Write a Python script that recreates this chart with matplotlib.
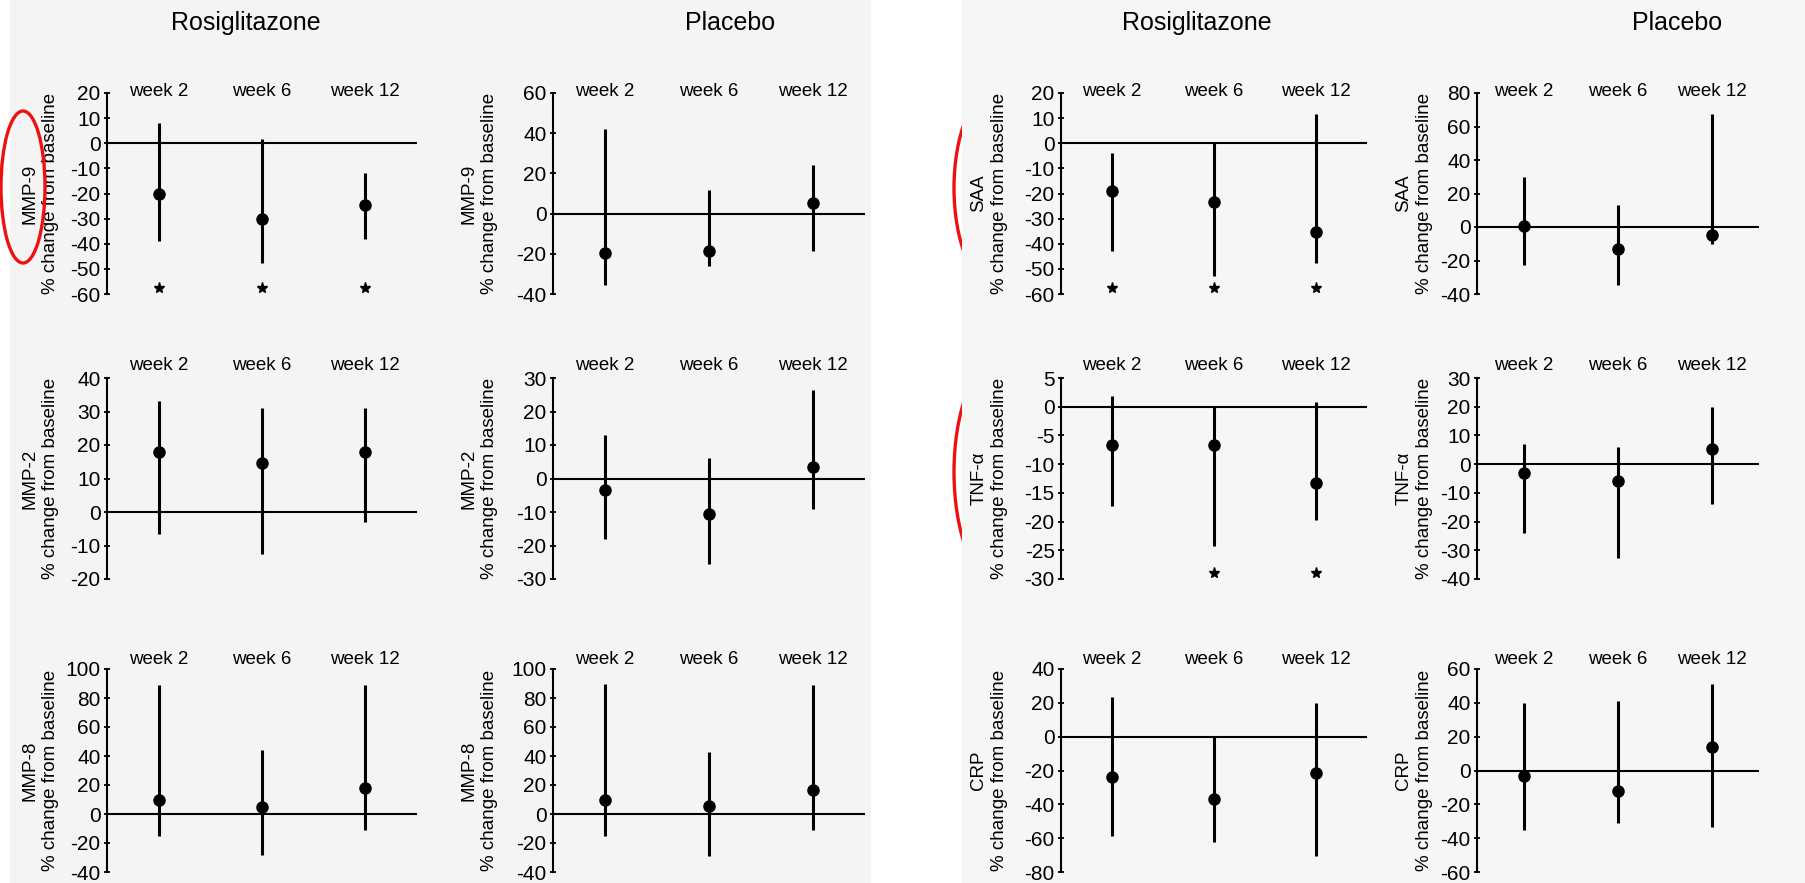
import matplotlib.pyplot as plt
import numpy as np
from matplotlib.patches import Rectangle, Ellipse
from matplotlib import transforms

plt.rcParams['font.family'] = ['Liberation Sans', 'DejaVu Sans']
plt.rcParams['axes.unicode_minus'] = False

weeks = ['week 2', 'week 6', 'week 12']

# % change from baseline: mean, lower end, upper end of the bar
mmp9_rosi_mean = [-20, -30, -24.5]
mmp9_rosi_lo = [-39, -47.5, -38]
mmp9_rosi_hi = [8, 1.5, -12]
mmp9_rosi_sig = [1, 1, 1]

mmp9_plac_mean = [-19.5, -18.5, 5.5]
mmp9_plac_lo = [-35.5, -26, -18.5]
mmp9_plac_hi = [42, 11.5, 24]

mmp2_rosi_mean = [18, 14.5, 18]
mmp2_rosi_lo = [-6.5, -12.5, -3]
mmp2_rosi_hi = [33, 31, 31]

mmp2_plac_mean = [-3.5, -10.5, 3.5]
mmp2_plac_lo = [-18, -25.5, -9]
mmp2_plac_hi = [13, 6, 26.5]

mmp8_rosi_mean = [10, 4.5, 18]
mmp8_rosi_lo = [-15.5, -28.5, -11]
mmp8_rosi_hi = [89, 44, 89]

mmp8_plac_mean = [9.5, 5.5, 16.5]
mmp8_plac_lo = [-15.5, -29, -11]
mmp8_plac_hi = [89.5, 43, 89]

saa_rosi_mean = [-19, -23.5, -35.5]
saa_rosi_lo = [-43, -53, -47.5]
saa_rosi_hi = [-4, 0, 11.5]
saa_rosi_sig = [1, 1, 1]

saa_plac_mean = [0.5, -13, -5]
saa_plac_lo = [-22.5, -34.5, -10]
saa_plac_hi = [30, 13, 67.5]

tnf_rosi_mean = [-6.6, -6.6, -13.2]
tnf_rosi_lo = [-17.3, -24.3, -19.8]
tnf_rosi_hi = [1.9, 0, 0.9]
tnf_rosi_sig = [0, 1, 1]

tnf_plac_mean = [-3, -5.8, 5.2]
tnf_plac_lo = [-24, -32.7, -14]
tnf_plac_hi = [7, 6, 20]

crp_rosi_mean = [-24, -37, -21.5]
crp_rosi_lo = [-59, -62.5, -70.5]
crp_rosi_hi = [23.5, 0, 20]

crp_plac_mean = [-3, -12, 14]
crp_plac_lo = [-35, -31, -33.5]
crp_plac_hi = [40, 41, 51]

W, H = 1806, 883
fig = plt.figure(figsize=(W / 100, H / 100), dpi=100)

# scanned page backgrounds
fig.add_artist(Rectangle((10 / W, 0), 861 / W, 1, transform=fig.transFigure,
                         fc='#f4f4f4', ec='none', zorder=-10))
for cy, h in [(188, 200), (472, 220)]:
    fig.add_artist(Ellipse((997 / W, 1 - cy / H), 86 / W, h / H, transform=fig.transFigure,
                           fill=False, ec='#ee1111', lw=2.4, zorder=-9))
fig.add_artist(Rectangle((962 / W, 0), (W - 962) / W, 1, transform=fig.transFigure,
                         fc='#f6f6f6', ec='none', zorder=-8))

cols = [(107, 310), (553, 312), (1061, 306), (1477, 282)]
rows = [(93, 294), (378, 579), (669, 872)]
label_x = [40, 479, 989, 1414]
week_off = [2, 12, 10]

panels = [
    (0, 0, 'MMP-9', mmp9_rosi_mean, mmp9_rosi_lo, mmp9_rosi_hi, (-60, 20, 10), mmp9_rosi_sig),
    (0, 1, 'MMP-9', mmp9_plac_mean, mmp9_plac_lo, mmp9_plac_hi, (-40, 60, 20), None),
    (1, 0, 'MMP-2', mmp2_rosi_mean, mmp2_rosi_lo, mmp2_rosi_hi, (-20, 40, 10), None),
    (1, 1, 'MMP-2', mmp2_plac_mean, mmp2_plac_lo, mmp2_plac_hi, (-30, 30, 10), None),
    (2, 0, 'MMP-8', mmp8_rosi_mean, mmp8_rosi_lo, mmp8_rosi_hi, (-40, 100, 20), None),
    (2, 1, 'MMP-8', mmp8_plac_mean, mmp8_plac_lo, mmp8_plac_hi, (-40, 100, 20), None),
    (0, 2, 'SAA', saa_rosi_mean, saa_rosi_lo, saa_rosi_hi, (-60, 20, 10), saa_rosi_sig),
    (0, 3, 'SAA', saa_plac_mean, saa_plac_lo, saa_plac_hi, (-40, 80, 20), None),
    (1, 2, 'TNF-\u03b1', tnf_rosi_mean, tnf_rosi_lo, tnf_rosi_hi, (-30, 5, 5), tnf_rosi_sig),
    (1, 3, 'TNF-\u03b1', tnf_plac_mean, tnf_plac_lo, tnf_plac_hi, (-40, 30, 10), None),
    (2, 2, 'CRP', crp_rosi_mean, crp_rosi_lo, crp_rosi_hi, (-80, 40, 20), None),
    (2, 3, 'CRP', crp_plac_mean, crp_plac_lo, crp_plac_hi, (-60, 60, 20), None),
]

x = np.arange(1, len(weeks) + 1)

for r, c, name, mean, lo, hi, (ymin, ymax, step), sig in panels:
    x0, w = cols[c]
    top, bot = rows[r]
    ax = fig.add_axes([x0 / W, 1 - bot / H, w / W, (bot - top) / H])
    ax.set_facecolor('none')
    ax.set_xlim(0.5, 3.5)
    ax.set_ylim(ymin, ymax)
    for s in ['top', 'right', 'bottom']:
        ax.spines[s].set_visible(False)
    ax.spines['left'].set_linewidth(1.5)
    ax.set_xticks([])
    ax.set_yticks(np.arange(ymin, ymax + step / 2, step))
    ax.tick_params(axis='y', direction='inout', length=5, width=1.3, pad=2,
                   labelsize=15)
    ax.axhline(0, color='k', lw=1.5, zorder=1)
    ax.vlines(x, lo, hi, color='k', lw=2.2, zorder=2)
    ax.plot(x, mean, 'o', color='k', ms=8, zorder=3)
    if sig is not None:
        sx = x[np.array(sig) == 1]
        ax.plot(sx, [ymin + 0.03 * (ymax - ymin)] * len(sx), ls='none',
                marker='*', ms=8, color='k', clip_on=False)
    tr = transforms.offset_copy(transforms.blended_transform_factory(ax.transData, ax.transAxes),
                                fig=fig, y=week_off[r], units='dots')
    for xi, wk in zip(x, weeks):
        ax.text(xi, 1.0, wk, transform=tr, ha='center', va='center', fontsize=13.5)
    ax.text((label_x[c] - x0) / w, 0.5, name + '\n% change from baseline',
            transform=ax.transAxes, rotation=90, ha='center', va='center',
            multialignment='center', fontsize=13.5, linespacing=1.25)

fig.text(246 / W, 1 - 23 / H, 'Rosiglitazone', ha='center', va='center', fontsize=18)
fig.text(730 / W, 1 - 23 / H, 'Placebo', ha='center', va='center', fontsize=18)
fig.text(1197 / W, 1 - 23 / H, 'Rosiglitazone', ha='center', va='center', fontsize=18)
fig.text(1677 / W, 1 - 23 / H, 'Placebo', ha='center', va='center', fontsize=18)

# red mark round the first label
fig.add_artist(Ellipse((23 / W, 1 - 187 / H), 44 / W, 152 / H, transform=fig.transFigure,
                       fill=False, ec='#ee1111', lw=2.4, zorder=10))

fig.savefig('out.png', dpi=100)
